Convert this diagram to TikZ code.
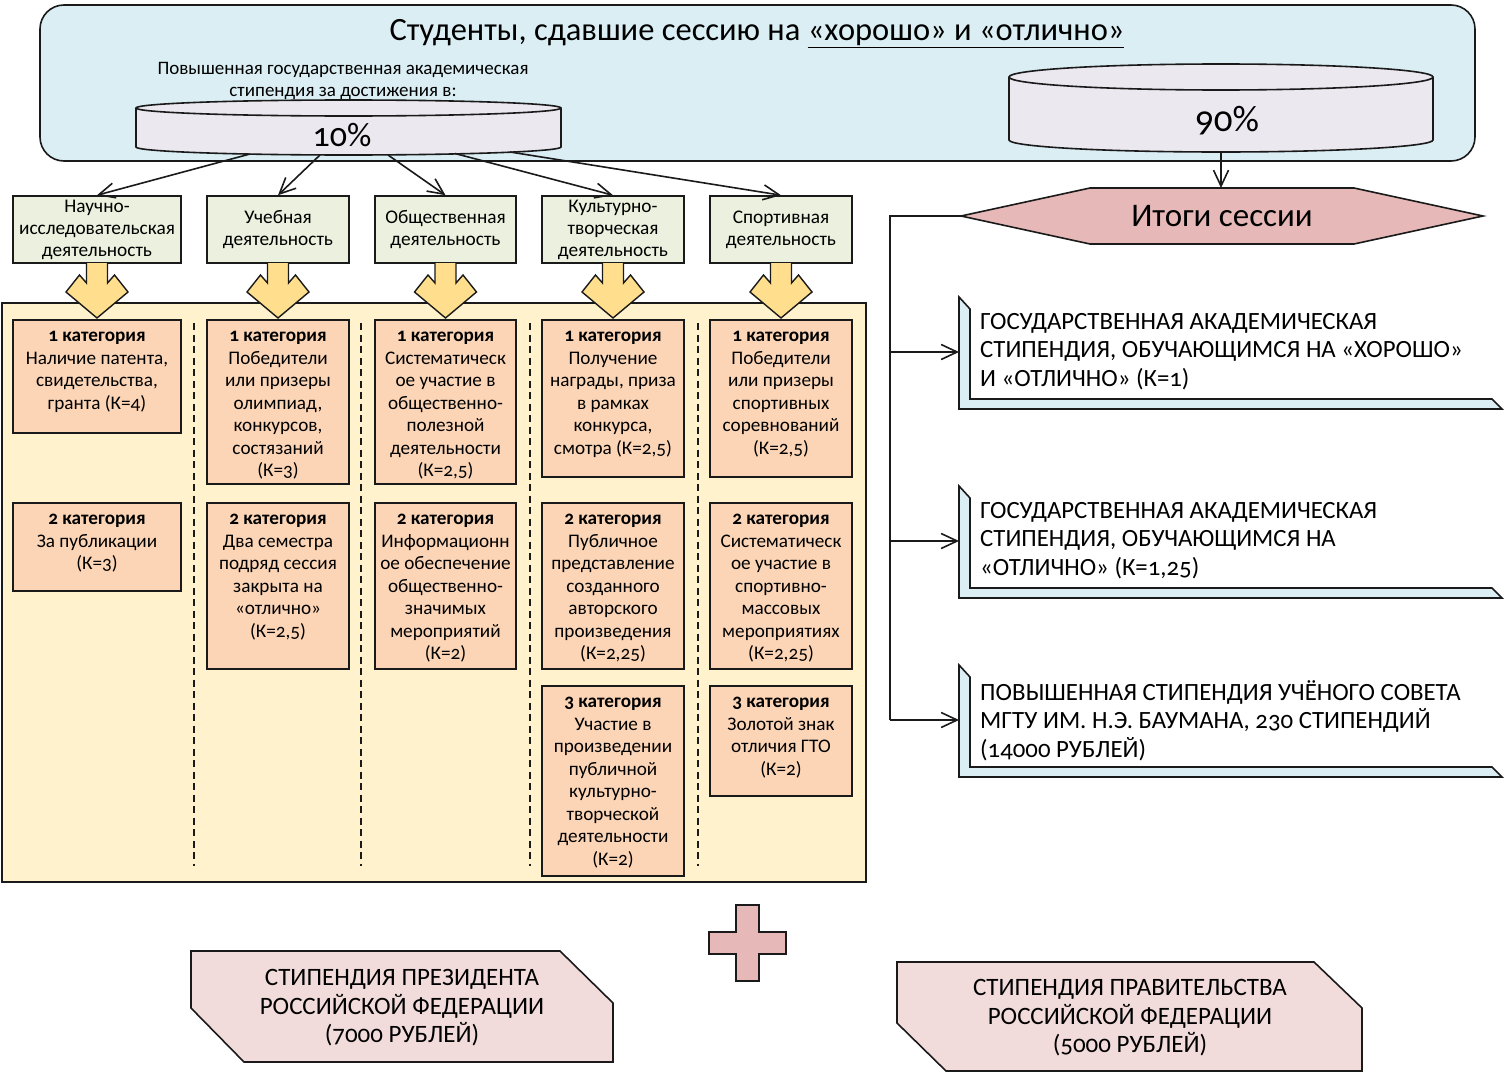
\documentclass[tikz,border=0pt]{standalone}
\usepackage{fontspec}
\setmainfont{Carlito}[Numbers=OldStyle]
\usetikzlibrary{arrows.meta}
\definecolor{topfill}{HTML}{DAEEF3}
\definecolor{cylfill}{HTML}{EBE8F0}
\definecolor{greenfill}{HTML}{EBF1DE}
\definecolor{creamfill}{HTML}{FFF2CC}
\definecolor{catfill}{HTML}{FBD5B6}
\definecolor{yellowfill}{HTML}{FFDF8E}
\definecolor{rosefill}{HTML}{E6B9B8}
\definecolor{palerose}{HTML}{F2DCDB}
\definecolor{ink}{HTML}{1A1A1A}
\tikzset{
  border/.style={draw=ink, line width=1.6pt},
  conn/.style={draw=ink, line width=1.6pt, -{Straight Barb[length=16pt,width=15pt,line width=1.6pt]}},
  plainline/.style={draw=ink, line width=1.8pt},
  greenbox/.style={border, fill=greenfill, align=center, inner sep=0pt,
    minimum height=67pt, font=\fontsize{19.3}{22}\selectfont},
  catbox/.style={border, fill=catfill, inner sep=0pt},
  cattext/.style={anchor=north, inner sep=0pt, yshift=-8.5pt, align=center,
    font=\fontsize{19.2}{22.5}\selectfont},
  ltext/.style={anchor=west, align=left, inner sep=0pt, font=\fontsize{24.8}{28.7}\selectfont},
  btext/.style={align=center, inner sep=0pt, font=\fontsize{25}{28.5}\selectfont},
  yarrow/.style={border, line width=1.4pt, fill=yellowfill, line join=miter},
  dashline/.style={draw=ink, line width=1.3pt, dash pattern=on 7pt off 4.5pt}
}
\newcommand\catnode[6]{%
  \node[catbox, minimum width=#5pt, minimum height=#4pt, anchor=north,
    label={[cattext]north:{\rule{0pt}{14pt}#6}}] (#1) at (#2,#3) {};}
\begin{document}
\begin{tikzpicture}[x=1pt,y=-1pt]
\useasboundingbox (0,0) rectangle (1504,1073);

% ---------- top panel ----------
\draw[border, fill=topfill, rounded corners=24pt] (40,5) rectangle (1475,161);
\node[font=\fontsize{32.5}{36}\selectfont, inner sep=0pt] (title) at (757,33.5)
  {Студенты, сдавшие сессию на \underline{«хорошо» и «отлично»}};
\node[font=\fontsize{19}{22}\selectfont, align=center, inner sep=0pt] (subtitle) at (343,81)
  {Повышенная государственная академическая\\стипендия за достижения в:};

% cylinder 10%
\path[border, fill=cylfill] (136,108) -- (136,147)
  .. controls (136,151.4) and (231.1,155) .. (348.5,155)
  .. controls (465.9,155) and (561,151.4) .. (561,147) -- (561,108)
  .. controls (561,103.6) and (465.9,100) .. (348.5,100)
  .. controls (231.1,100) and (136,103.6) .. (136,108) -- cycle;
\draw[border] (136,108) .. controls (136,112.4) and (231.1,116) .. (348.5,116)
  .. controls (465.9,116) and (561,112.4) .. (561,108);
\node[font=\fontsize{34}{38}\selectfont, inner sep=0pt] (p10) at (342,135) {10\%};

% cylinder 90%
\path[border, fill=cylfill] (1009,77) -- (1009,140)
  .. controls (1009,146.6) and (1103.9,152) .. (1221,152)
  .. controls (1338.1,152) and (1433,146.6) .. (1433,140) -- (1433,77)
  .. controls (1433,69.8) and (1338.1,64) .. (1221,64)
  .. controls (1103.9,64) and (1009,69.8) .. (1009,77) -- cycle;
\draw[border] (1009,77) .. controls (1009,84.2) and (1103.9,90) .. (1221,90)
  .. controls (1338.1,90) and (1433,84.2) .. (1433,77);
\node[font=\fontsize{37}{40}\selectfont, inner sep=0pt] (p90) at (1227,121) {90\%};

% ---------- activity boxes ----------
\node[greenbox, minimum width=168pt] (g1) at (97,229.5) {Научно-\\исследовательская\\деятельность};
\node[greenbox, minimum width=142pt] (g2) at (278,229.5) {Учебная\\деятельность};
\node[greenbox, minimum width=141pt] (g3) at (445.5,229.5) {Общественная\\деятельность};
\node[greenbox, minimum width=142pt] (g4) at (613,229.5) {Культурно-\\творческая\\деятельность};
\node[greenbox, minimum width=142pt] (g5) at (781,229.5) {Спортивная\\деятельность};

\coordinate (s1) at (250,154);
\coordinate (s2) at (320,155);
\coordinate (s3) at (388,155);
\coordinate (s4) at (455,153.5);
\coordinate (s5) at (510,152);
\draw[conn] (s1) -- (g1.north);
\draw[conn] (s2) -- (g2.north);
\draw[conn] (s3) -- (g3.north);
\draw[conn] (s4) -- (g4.north);
\draw[conn] (s5) -- (g5.north);

% ---------- cream panel ----------
\draw[border, fill=creamfill] (2,303) rectangle (866,882);
\foreach \xx in {194,361,530,698} \draw[dashline] (\xx,323) -- (\xx,866);

% block arrows
\foreach \cx in {97,278,445.5,613,781} {
  \begin{scope}[shift={(\cx,0)}]
  \path[yarrow] (-10.5,263) -- (-10.5,283) -- (-17.5,275) -- (-31,292) -- (0,318)
    -- (31,292) -- (17.5,275) -- (10.5,283) -- (10.5,263);
  \end{scope}
}

% ---------- category boxes ----------
\catnode{c11}{97}{319}{113}{168}{\textbf{1 категория}\\Наличие патента,\\свидетельства,\\гранта (К=4)}
\catnode{c12}{97}{502}{88}{168}{\textbf{2 категория}\\За публикации\\(К=3)}
\catnode{c21}{278}{319}{164}{142}{\textbf{1 категория}\\Победители\\или призеры\\олимпиад,\\конкурсов,\\состязаний\\(К=3)}
\catnode{c22}{278}{502}{166}{142}{\textbf{2 категория}\\Два семестра\\подряд сессия\\закрыта на\\«отлично»\\(К=2,5)}
\catnode{c31}{445.5}{319}{164}{141}{\textbf{1 категория}\\Систематическ\\ое участие в\\общественно-\\полезной\\деятельности\\(К=2,5)}
\catnode{c32}{445.5}{502}{166}{141}{\textbf{2 категория}\\Информационн\\ое обеспечение\\общественно-\\значимых\\мероприятий\\(К=2)}
\catnode{c41}{613}{319}{157}{142}{\textbf{1 категория}\\Получение\\награды, приза\\в рамках\\конкурса,\\смотра (К=2,5)}
\catnode{c42}{613}{502}{166}{142}{\textbf{2 категория}\\Публичное\\представление\\созданного\\авторского\\произведения\\(К=2,25)}
\catnode{c43}{613}{685}{190}{142}{\textbf{3 категория}\\Участие в\\произведении\\публичной\\культурно-\\творческой\\деятельности\\(К=2)}
\catnode{c51}{781}{319}{157}{142}{\textbf{1 категория}\\Победители\\или призеры\\спортивных\\соревнований\\(К=2,5)}
\catnode{c52}{781}{502}{166}{142}{\textbf{2 категория}\\Систематическ\\ое участие в\\спортивно-\\массовых\\мероприятиях\\(К=2,25)}
\catnode{c53}{781}{685}{110}{142}{\textbf{3 категория}\\Золотой знак\\отличия ГТО\\(К=2)}

% ---------- right side ----------
\path[border, fill=rosefill, line join=miter] (961,216) -- (1090,188) -- (1354,188) -- (1483,216)
  -- (1354,244) -- (1090,244) -- cycle;
\node[font=\fontsize{33}{36}\selectfont, inner sep=0pt] (hex) at (1222,216) {Итоги сессии};
\coordinate (hexW) at (961,216);
\coordinate (hexN) at (1221,188);
\coordinate (c90b) at (1221,152);
\draw[conn] (c90b) -- (hexN);

\foreach \T/\nm in {297/L1,486/L2,665/L3} {
  \path[border, fill=topfill, line join=miter] (959,\T) -- (970,\T+12) -- (970,\T+102)
    -- (1492,\T+102) -- (1502,\T+112) -- (959,\T+112) -- cycle;
  \coordinate (\nm) at (959,\T+55);
}
\node[ltext] (t1) at (980,351.5) {ГОСУДАРСТВЕННАЯ АКАДЕМИЧЕСКАЯ\\СТИПЕНДИЯ, ОБУЧАЮЩИМСЯ НА «ХОРОШО»\\И «ОТЛИЧНО» (К=1)};
\node[ltext] (t2) at (980,540.5) {ГОСУДАРСТВЕННАЯ АКАДЕМИЧЕСКАЯ\\СТИПЕНДИЯ, ОБУЧАЮЩИМСЯ НА\\«ОТЛИЧНО» (К=1,25)};
\node[ltext] (t3) at (980,720.5) {ПОВЫШЕННАЯ СТИПЕНДИЯ УЧЁНОГО СОВЕТА\\МГТУ ИМ. Н.Э. БАУМАНА, 230 СТИПЕНДИЙ\\(14000 РУБЛЕЙ)};

\coordinate (b1) at (890,352);
\coordinate (b2) at (890,541);
\coordinate (b3) at (890,720);
\draw[plainline] (hexW) -| (b3);
\draw[conn] (b1) -- (L1);
\draw[conn] (b2) -- (L2);
\draw[conn] (b3) -- (L3);

% ---------- bottom ----------
\path[border, fill=rosefill, line join=miter] (736,905) -- (759,905) -- (759,932) -- (786,932)
  -- (786,954) -- (759,954) -- (759,981) -- (736,981) -- (736,954) -- (709,954)
  -- (709,932) -- (736,932) -- cycle;

\path[border, fill=palerose, line join=miter] (191,951) -- (560,951) -- (613,1003) -- (613,1062)
  -- (244,1062) -- (191,1008) -- cycle;
\node[btext] (pres) at (402,1008) {СТИПЕНДИЯ ПРЕЗИДЕНТА\\РОССИЙСКОЙ ФЕДЕРАЦИИ\\(7000 РУБЛЕЙ)};

\path[border, fill=palerose, line join=miter] (897,962) -- (1314,962) -- (1362,1008) -- (1362,1071)
  -- (946,1071) -- (897,1023) -- cycle;
\node[btext] (gov) at (1130,1018) {СТИПЕНДИЯ ПРАВИТЕЛЬСТВА\\РОССИЙСКОЙ ФЕДЕРАЦИИ\\(5000 РУБЛЕЙ)};
\end{tikzpicture}
\end{document}
